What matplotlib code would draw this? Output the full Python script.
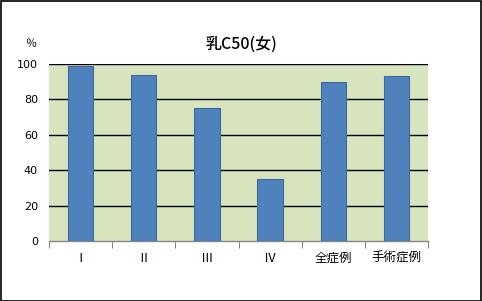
import matplotlib
matplotlib.use("Agg")
import matplotlib.pyplot as plt
from matplotlib.patches import Rectangle

plt.rcParams['font.family'] = ['Noto Sans CJK JP', 'DejaVu Sans']

categories = ['Ⅰ', 'Ⅱ', 'Ⅲ', 'Ⅳ', '全症例', '手術症例']
values = [99, 94, 75, 35, 90, 93]
yticks = [0, 20, 40, 60, 80, 100]
title = '乳C50(女)'
unit = '％'

W, H = 482, 301
fig = plt.figure(figsize=(W / 100, H / 100), dpi=100)
fig.patch.set_facecolor('white')
fig.add_artist(Rectangle((0.5 / W, 0.5 / H), 1 - 1.5 / W, 1 - 1.5 / H,
                         transform=fig.transFigure, fill=False,
                         edgecolor='black', linewidth=1.2))

left, right, top, bottom = 49, 428, 64, 241
ax = fig.add_axes([left / W, 1 - bottom / H, (right - left) / W, (bottom - top) / H])
ax.set_facecolor('#D7E4BD')

x = range(len(categories))
ax.bar(x, values, width=0.4, color='#4F81BD', edgecolor='#3F6A9A', linewidth=0.8, zorder=3)

ax.set_xlim(-0.5, len(categories) - 0.5)
ax.set_ylim(0, 100)
ax.set_yticks(yticks)
ax.set_yticklabels([str(t) for t in yticks], fontsize=8, family=['DejaVu Sans'])
ax.tick_params(axis='y', length=0, pad=8)
for t in yticks[1:]:
    ax.axhline(t, color='black', linewidth=1.0, zorder=2)

ax.set_xticks([i - 0.5 for i in range(len(categories) + 1)])
ax.set_xticklabels([])
ax.set_xticks(list(x), minor=True)
ax.set_xticklabels(categories, minor=True, fontsize=9)
ax.tick_params(axis='x', which='major', length=5, color='#868686', direction='out')
ax.tick_params(axis='x', which='minor', length=0, pad=8)

for s in ['left', 'right', 'top']:
    ax.spines[s].set_visible(False)
ax.spines['bottom'].set_color('#868686')
ax.spines['bottom'].set_linewidth(1.0)

fig.text(241 / W, 1 - 44 / H, title, ha='center', va='center', fontsize=11.5, fontweight='medium')
fig.text(31 / W, 1 - 44 / H, unit, ha='center', va='center', fontsize=8)

fig.savefig('out.png', dpi=100, facecolor='white')
